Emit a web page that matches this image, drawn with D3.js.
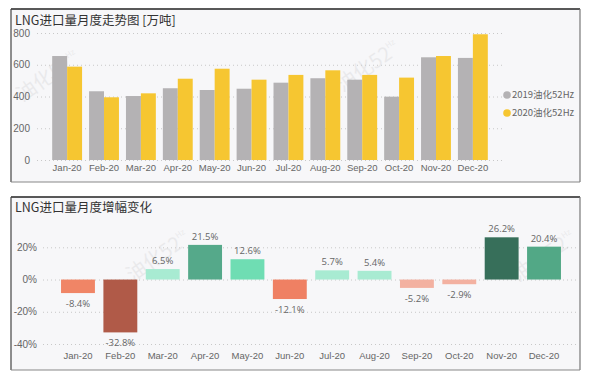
<!DOCTYPE html>
<html><head><meta charset="utf-8">
<script src="https://cdn.jsdelivr.net/npm/d3@7"></script>
<style>
body{margin:0;background:#fff;}
svg{display:block;font-family:"Open Sans","Noto Sans CJK SC",sans-serif;}
</style></head><body>
<svg id="c" width="591" height="380"></svg>
<script>
const months = ["Jan-20","Feb-20","Mar-20","Apr-20","May-20","Jun-20","Jul-20","Aug-20","Sep-20","Oct-20","Nov-20","Dec-20"];
const seriesNames = ["2019油化52Hz","2020油化52Hz"];
const vol2019 = [655,433,403,452,441,449,487,515,506,399,647,643];
const vol2020 = [588,395,420,512,575,506,536,565,536,519,655,792];
const volTicks = [0,200,400,600,800];
const growth = [-8.4,-32.8,6.5,21.5,12.6,-12.1,5.7,5.4,-5.2,-2.9,26.2,20.4];
const growthTicks = [-40,-20,0,20];
const growthColors = ["#F08566","#B05A48","#A8EBD2","#55A98A","#6FDDB3","#EF8063","#A8EBD2","#A8EBD2","#F3B1A1","#F3B1A1","#376F5A","#52A886"];
const serColors = ["#B4B2B4","#F6C631"];

const svg = d3.select("#c");
const fontCJK = '"Noto Sans CJK SC","Open Sans",sans-serif';

function panel(x,y,w,h){
  svg.append("rect").attr("x",x).attr("y",y).attr("width",w).attr("height",h).attr("fill","#F7F7F9");
  svg.append("line").attr("x1",x).attr("x2",x+w).attr("y1",y).attr("y2",y).attr("stroke","#222").attr("stroke-width",1.3);
  svg.append("line").attr("x1",x).attr("x2",x).attr("y1",y).attr("y2",y+h).attr("stroke","#444").attr("stroke-width",1.2);
  svg.append("line").attr("x1",x+w).attr("x2",x+w).attr("y1",y).attr("y2",y+h).attr("stroke","#777").attr("stroke-width",1.2);
  svg.append("line").attr("x1",x).attr("x2",x+w).attr("y1",y+h).attr("y2",y+h).attr("stroke","#888").attr("stroke-width",1.2);
}

// ---------- Watermarks (behind marks) ----------
function watermarks(list){
  list.forEach(([cx,cy])=>{
    const t = svg.append("text").attr("transform",`translate(${cx},${cy}) rotate(-35)`)
      .attr("text-anchor","middle").attr("font-size",20).attr("fill","#000").attr("opacity",0.05)
      .style("font-family",fontCJK);
    t.append("tspan").text("油化52");
    t.append("tspan").attr("font-size",8).attr("dy","-10").text("Hz");
  });
}

// ---------- Top chart ----------
panel(11,9,569,173);
watermarks([[52,82],[372,72]]);
svg.append("text").attr("x",15).attr("y",24.5).attr("font-size",12.5).attr("fill","#333").style("font-family",fontCJK).text("LNG进口量月度走势图 [万吨]");

const y1 = d3.scaleLinear().domain([0,800]).range([160,33]);
const x1 = d3.scaleBand().domain(months).range([48.5,491.5]).paddingInner(0.19).paddingOuter(0.1);
const xs = d3.scaleBand().domain(seriesNames).range([0,x1.bandwidth()]);

const g1 = svg.append("g");
g1.append("g").attr("transform","translate(37,0)")
  .call(d3.axisLeft(y1).tickValues(volTicks).tickSize(-465).tickPadding(7))
  .call(g=>{g.select(".domain").remove();
    g.selectAll(".tick line").attr("stroke","#c8c8c8").attr("stroke-dasharray","1,3");
    g.selectAll(".tick text").attr("fill","#666").attr("font-size",10).attr("x",-7);});

const vals = [vol2019, vol2020];
seriesNames.forEach((s,si)=>{
  g1.append("g").selectAll("rect").data(months).join("rect")
    .attr("x",d=>x1(d)+xs(s)).attr("width",xs.bandwidth())
    .attr("y",(d,i)=>y1(vals[si][i])).attr("height",(d,i)=>y1(0)-y1(vals[si][i]))
    .attr("fill",serColors[si]);
});

g1.append("g").attr("transform","translate(0,164)")
  .call(d3.axisBottom(x1).tickSize(0).tickPadding(0))
  .call(g=>{g.select(".domain").remove();
    g.selectAll(".tick text").attr("fill","#666").attr("font-size",9.5).attr("dy","0.71em");});

const leg = svg.append("g");
seriesNames.forEach((s,i)=>{
  leg.append("circle").attr("cx",507).attr("cy",95+i*18).attr("r",3.8).attr("fill",serColors[i]);
  leg.append("text").attr("x",512).attr("y",95+i*18).attr("dy","0.35em").attr("font-size",9.5).attr("fill","#666").style("font-family",fontCJK).text(s);
});

// ---------- Bottom chart ----------
panel(11,197,569,173);
watermarks([[162,262],[548,262]]);
svg.append("text").attr("x",15).attr("y",212).attr("font-size",12.5).attr("fill","#333").style("font-family",fontCJK).text("LNG进口量月度增幅变化");

const y2 = d3.scaleLinear().domain([-40,20]).range([344,247.3]);
const x2 = d3.scaleBand().domain(months).range([56.8,565.2]).paddingInner(0.2).paddingOuter(0.1);
const g2 = svg.append("g");
g2.append("g").attr("transform","translate(43,0)")
  .call(d3.axisLeft(y2).tickValues(growthTicks).tickSize(-534).tickPadding(6).tickFormat(d=>d+"%"))
  .call(g=>{g.select(".domain").remove();
    g.selectAll(".tick line").attr("stroke","#c8c8c8").attr("stroke-dasharray","1,3");
    g.selectAll(".tick text").attr("fill","#666").attr("font-size",10).attr("x",-6);});

g2.append("g").selectAll("rect").data(months).join("rect")
  .attr("x",d=>x2(d)).attr("width",x2.bandwidth())
  .attr("y",(d,i)=>y2(Math.max(0,growth[i]))).attr("height",(d,i)=>Math.abs(y2(growth[i])-y2(0)))
  .attr("fill",(d,i)=>growthColors[i]);

g2.append("g").selectAll("text").data(months).join("text")
  .attr("x",d=>x2(d)+x2.bandwidth()/2)
  .attr("y",(d,i)=>growth[i]>=0 ? y2(growth[i])-5 : y2(growth[i])+14)
  .attr("text-anchor","middle").attr("font-size",9.5).attr("fill","#666")
  .text((d,i)=>growth[i].toFixed(1)+"%");

g2.append("g").attr("transform","translate(0,352)")
  .call(d3.axisBottom(x2).tickSize(0).tickPadding(0))
  .call(g=>{g.select(".domain").remove();
    g.selectAll(".tick text").attr("fill","#666").attr("font-size",9.5).attr("dy","0.71em");});
</script></body></html>
